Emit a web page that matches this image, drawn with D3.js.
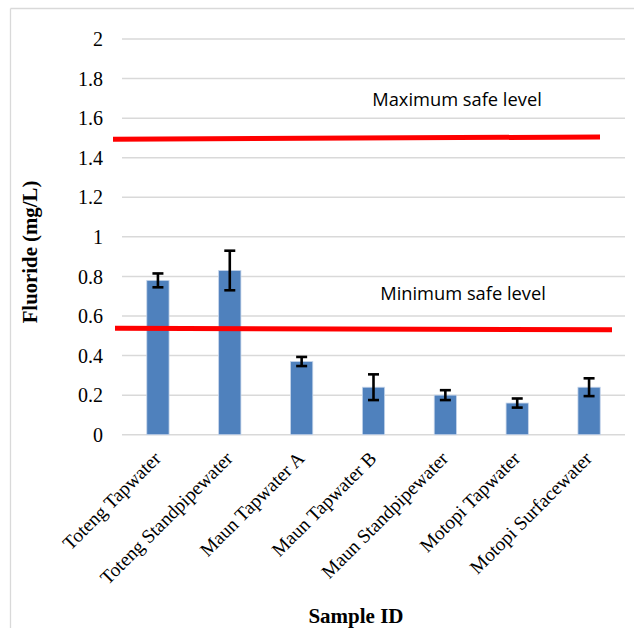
<!DOCTYPE html>
<html><head><meta charset="utf-8">
<script src="https://cdn.jsdelivr.net/npm/d3@7"></script>
<style>html,body{margin:0;padding:0;background:#fff;}svg{display:block;}</style>
</head><body>
<svg id="chart" width="634" height="628"></svg>
<script>
const categories = ["Toteng Tapwater","Toteng Standpipewater","Maun Tapwater A","Maun Tapwater B","Maun Standpipewater","Motopi Tapwater","Motopi Surfacewater"];
const values = [0.78, 0.83, 0.37, 0.24, 0.20, 0.16, 0.24];
const errors = [0.035, 0.10, 0.023, 0.065, 0.025, 0.023, 0.045];
const yTicks = [0, 0.2, 0.4, 0.6, 0.8, 1, 1.2, 1.4, 1.6, 1.8, 2];
const maxLine = [1.493, 1.505];
const minLine = [0.538, 0.530];

const svg = d3.select("#chart");
const plot = {left: 122, right: 625, top: 39, bottom: 434.7};

// frame
svg.append("line").attr("x1",10.5).attr("x2",634).attr("y1",8.5).attr("y2",8.5).attr("stroke","#d9d9d9").attr("stroke-width",1.3);
svg.append("line").attr("x1",10.5).attr("x2",10.5).attr("y1",8.5).attr("y2",628).attr("stroke","#d9d9d9").attr("stroke-width",1.3);

const x = d3.scaleBand().domain(categories).range([plot.left, plot.right]).paddingInner(0.69).paddingOuter(0.345);
const y = d3.scaleLinear().domain([0, 2]).range([plot.bottom, plot.top]);

// gridlines
svg.append("g").selectAll("line").data(yTicks).join("line")
  .attr("x1", plot.left).attr("x2", plot.right)
  .attr("y1", d => y(d)).attr("y2", d => y(d))
  .attr("stroke", "#d9d9d9").attr("stroke-width", 1.5);

const serif = "'Liberation Serif', 'Times New Roman', serif";
const sans = "'Open Sans', 'Liberation Sans', sans-serif";

// y axis labels
const yAxis = d3.axisLeft(y).tickValues(yTicks).tickSize(0).tickPadding(0).tickFormat(d => String(d));
const gy = svg.append("g").attr("transform", `translate(${103},0)`).call(yAxis);
gy.select(".domain").remove();
gy.selectAll("text").attr("font-family",serif).attr("font-size",20).attr("fill","#000").attr("dy","0.33em");

// bars
svg.append("g").selectAll("rect").data(values).join("rect")
  .attr("x", (d,i) => x(categories[i]))
  .attr("width", x.bandwidth())
  .attr("y", d => y(d))
  .attr("height", d => y(0) - y(d))
  .attr("fill", "#4F81BD")
  .attr("stroke", "#c6d5ea").attr("stroke-width", 0.8);

// error bars
const eg = svg.append("g").attr("stroke","#000").attr("stroke-width",2.6);
values.forEach((v,i) => {
  const cx = x(categories[i]) + x.bandwidth()/2;
  const hi = y(v + errors[i]), lo = y(v - errors[i]);
  eg.append("line").attr("x1",cx).attr("x2",cx).attr("y1",hi).attr("y2",lo);
  eg.append("line").attr("x1",cx-5.5).attr("x2",cx+5.5).attr("y1",hi).attr("y2",hi);
  eg.append("line").attr("x1",cx-5.5).attr("x2",cx+5.5).attr("y1",lo).attr("y2",lo);
});

// red safe-level lines
svg.append("line").attr("x1",113).attr("x2",600).attr("y1",y(maxLine[0])).attr("y2",y(maxLine[1]))
  .attr("stroke","#ff0000").attr("stroke-width",5);
svg.append("line").attr("x1",115).attr("x2",612).attr("y1",y(minLine[0])).attr("y2",y(minLine[1]))
  .attr("stroke","#ff0000").attr("stroke-width",5);

svg.append("text").attr("x",457).attr("y",106).attr("text-anchor","middle")
  .attr("font-family",sans).attr("font-size",18.3).attr("fill","#000").text("Maximum safe level");
svg.append("text").attr("x",463).attr("y",300).attr("text-anchor","middle")
  .attr("font-family",sans).attr("font-size",18.3).attr("fill","#000").text("Minimum safe level");

// x labels
svg.append("g").selectAll("text").data(categories).join("text")
  .attr("transform", d => `translate(${x(d)+x.bandwidth()/2+4},${plot.bottom+25}) rotate(-45)`)
  .attr("text-anchor","end")
  .attr("font-family",serif).attr("font-size",19.3).attr("fill","#000")
  .text(d => d);

// axis titles
svg.append("text").attr("transform",`translate(37,252) rotate(-90)`).attr("text-anchor","middle")
  .attr("font-family",serif).attr("font-weight","bold").attr("font-size",20.8).attr("fill","#000")
  .text("Fluoride (mg/L)");
svg.append("text").attr("x",356).attr("y",623).attr("text-anchor","middle")
  .attr("font-family",serif).attr("font-weight","bold").attr("font-size",21).attr("fill","#000")
  .text("Sample ID");
</script>
</body></html>
